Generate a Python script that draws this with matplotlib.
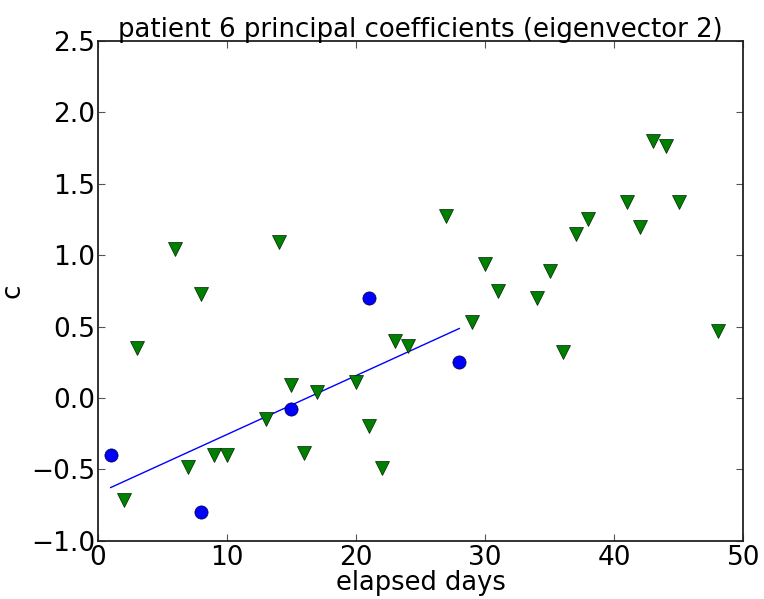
import matplotlib as mpl
mpl.use("Agg")
import matplotlib.pyplot as plt
import numpy as np

# blue circles: the fitted subset
fit_days = [1, 8, 15, 21, 28]
fit_c = [-0.40, -0.80, -0.08, 0.70, 0.25]

# green triangles: remaining samples
other_days = [2, 3, 6, 7, 8, 9, 10, 13, 14, 15, 16, 17, 20, 21, 22, 23, 24,
              27, 29, 30, 31, 34, 35, 36, 37, 38, 41, 42, 43, 44, 45, 48]
other_c = [-0.715, 0.35, 1.04, -0.48, 0.725, -0.40, -0.40, -0.15, 1.095,
           0.09, -0.385, 0.045, 0.115, -0.195, -0.49, 0.40, 0.365,
           1.275, 0.535, 0.94, 0.75, 0.70, 0.89, 0.325, 1.15, 1.255,
           1.37, 1.20, 1.80, 1.76, 1.37, 0.47]

x_ticks = [0, 10, 20, 30, 40, 50]
y_ticks = [-1.0, -0.5, 0.0, 0.5, 1.0, 1.5, 2.0, 2.5]

fig = plt.figure(figsize=(7.64, 5.99), dpi=100)
ax = fig.add_axes([0.128, 0.097, 0.845, 0.835])

ax.plot(fit_days, fit_c, "o", color="blue", markersize=9.5,
        markeredgecolor="#000033", markeredgewidth=0.5, zorder=3)
ax.plot(other_days, other_c, "v", color="green", markersize=9.5,
        markeredgecolor="#002200", markeredgewidth=0.5, zorder=3)

# least-squares line through the blue points
slope, icpt = np.polyfit(fit_days, fit_c, 1)
xs = np.array([min(fit_days), max(fit_days)])
ax.plot(xs, slope * xs + icpt, "-", color="blue", linewidth=1.0, zorder=2)

ax.set_xlim(0, 50)
ax.set_ylim(-1.0, 2.5)
ax.set_xticks(x_ticks)
ax.set_yticks(y_ticks)
ax.tick_params(direction="in", length=5, width=0.8, top=True, right=True,
               labelsize=19, color="#555555")
ax.tick_params(axis="x", pad=3)
ax.tick_params(axis="y", pad=2)
for s in ax.spines.values():
    s.set_linewidth(1.3)
    s.set_color("#222222")

ax.set_xlabel("elapsed days", fontsize=18.5, labelpad=-0.5)
ax.set_ylabel("c", fontsize=18.8, labelpad=4)
ax.set_title("patient 6 principal coefficients (eigenvector 2)", fontsize=18.7,
             pad=3)

fig.savefig("out.png", dpi=100)
